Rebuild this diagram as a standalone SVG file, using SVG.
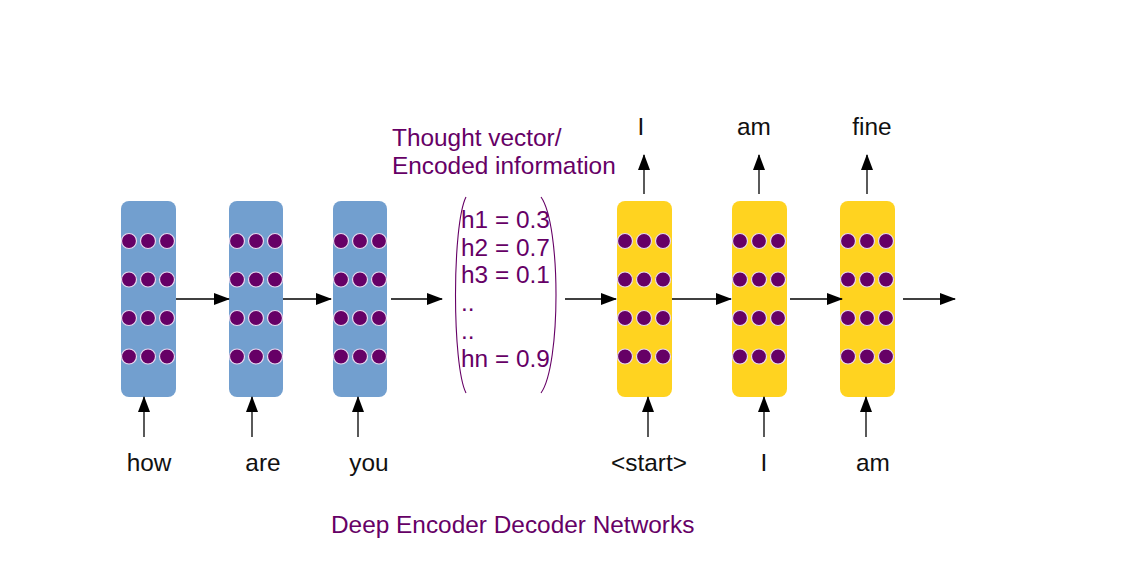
<svg xmlns="http://www.w3.org/2000/svg" width="1134" height="567" viewBox="0 0 1134 567">
<style>
.enc{fill:#729fcf}
.dec{fill:#ffd320}
.dot{fill:#660066;stroke:#e8d8ef;stroke-width:1.2}
.ln{stroke:#000;stroke-width:1.3;fill:none}
.par{stroke:#660066;stroke-width:1.1;fill:none}
.lbl{font-family:"Liberation Sans",Arial,sans-serif;font-size:24.4px;fill:#111}
.pur{font-family:"Liberation Sans",Arial,sans-serif;font-size:24.4px;fill:#660066}
</style>
<defs>
<marker id="ah" markerWidth="16" markerHeight="12" refX="15" refY="6" orient="auto" markerUnits="userSpaceOnUse">
<path d="M0,0 L16,6 L0,12 Z" fill="#000"/>
</marker>
<g id="dots">
<circle class="dot" cx="0" cy="0" r="7.5"/><circle class="dot" cx="19" cy="0" r="7.5"/><circle class="dot" cx="38" cy="0" r="7.5"/>
<circle class="dot" cx="0" cy="38.5" r="7.5"/><circle class="dot" cx="19" cy="38.5" r="7.5"/><circle class="dot" cx="38" cy="38.5" r="7.5"/>
<circle class="dot" cx="0" cy="77" r="7.5"/><circle class="dot" cx="19" cy="77" r="7.5"/><circle class="dot" cx="38" cy="77" r="7.5"/>
<circle class="dot" cx="0" cy="115.5" r="7.5"/><circle class="dot" cx="19" cy="115.5" r="7.5"/><circle class="dot" cx="38" cy="115.5" r="7.5"/>
</g>
</defs>
<rect width="1134" height="567" fill="#fff"/>
<g id="enc1"><rect class="enc" x="121" y="201" width="55" height="196" rx="8"/><use href="#dots" x="129" y="241"/></g>
<g id="enc2"><rect class="enc" x="229" y="201" width="54" height="196" rx="8"/><use href="#dots" x="237" y="241"/></g>
<g id="enc3"><rect class="enc" x="333" y="201" width="54" height="196" rx="8"/><use href="#dots" x="341" y="241"/></g>
<g id="dec1"><rect class="dec" x="617" y="201" width="55" height="196" rx="8"/><use href="#dots" x="625" y="241"/></g>
<g id="dec2"><rect class="dec" x="732" y="201" width="55" height="196" rx="8"/><use href="#dots" x="740" y="241"/></g>
<g id="dec3"><rect class="dec" x="840" y="201" width="55" height="196" rx="8"/><use href="#dots" x="848" y="241"/></g>
<g id="thought">
<path class="par" d="M466,197 C452,225 452,365 466,393"/>
<path class="par" d="M541,197 C561,225 561,365 541,393"/>
<text class="pur" x="461" y="228">h1 = 0.3</text>
<text class="pur" x="461" y="256">h2 = 0.7</text>
<text class="pur" x="461" y="283">h3 = 0.1</text>
<text class="pur" x="461" y="311">..</text>
<text class="pur" x="461" y="339">..</text>
<text class="pur" x="461" y="367">hn = 0.9</text>
</g>
<g id="connectors">
<line class="ln" x1="176" y1="299" x2="229" y2="299" marker-end="url(#ah)"/>
<line class="ln" x1="283" y1="299" x2="331" y2="299" marker-end="url(#ah)"/>
<line class="ln" x1="391" y1="299" x2="442" y2="299" marker-end="url(#ah)"/>
<line class="ln" x1="565" y1="299" x2="616" y2="299" marker-end="url(#ah)"/>
<line class="ln" x1="672" y1="299" x2="731" y2="299" marker-end="url(#ah)"/>
<line class="ln" x1="790" y1="299" x2="842" y2="299" marker-end="url(#ah)"/>
<line class="ln" x1="903" y1="299" x2="955" y2="299" marker-end="url(#ah)"/>
<line class="ln" x1="144" y1="437" x2="144" y2="397" marker-end="url(#ah)"/>
<line class="ln" x1="252" y1="437" x2="252" y2="397" marker-end="url(#ah)"/>
<line class="ln" x1="358" y1="437" x2="358" y2="397" marker-end="url(#ah)"/>
<line class="ln" x1="648" y1="437" x2="648" y2="397" marker-end="url(#ah)"/>
<line class="ln" x1="764" y1="437" x2="764" y2="397" marker-end="url(#ah)"/>
<line class="ln" x1="866" y1="437" x2="866" y2="397" marker-end="url(#ah)"/>
<line class="ln" x1="644" y1="194" x2="644" y2="155" marker-end="url(#ah)"/>
<line class="ln" x1="759" y1="194" x2="759" y2="155" marker-end="url(#ah)"/>
<line class="ln" x1="867" y1="194" x2="867" y2="155" marker-end="url(#ah)"/>
</g>
<g id="labels">
<text class="lbl" x="641" y="135" text-anchor="middle">I</text>
<text class="lbl" x="754" y="135" text-anchor="middle">am</text>
<text class="lbl" x="872" y="135" text-anchor="middle">fine</text>
<text class="lbl" x="149" y="471" text-anchor="middle">how</text>
<text class="lbl" x="263" y="471" text-anchor="middle">are</text>
<text class="lbl" x="369" y="471" text-anchor="middle">you</text>
<text class="lbl" x="649" y="471" text-anchor="middle">&lt;start&gt;</text>
<text class="lbl" x="764" y="471" text-anchor="middle">I</text>
<text class="lbl" x="873" y="471" text-anchor="middle">am</text>
<text class="pur" x="392" y="146">Thought vector/</text>
<text class="pur" x="392" y="174">Encoded information</text>
<text class="pur" x="331" y="533">Deep Encoder Decoder Networks</text>
</g>
</svg>
